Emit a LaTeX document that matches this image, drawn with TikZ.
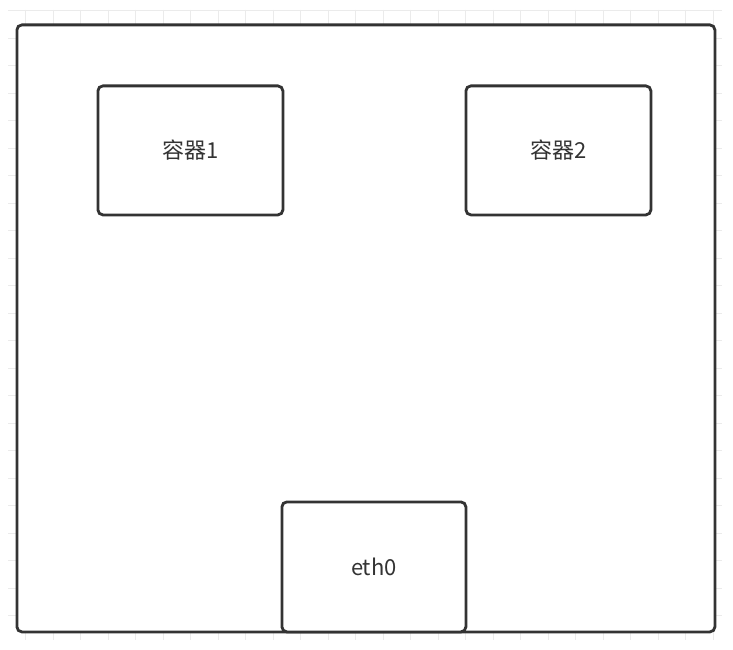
\documentclass[tikz,border=0pt]{standalone}
\usepackage{fontspec}
\setmainfont{Liberation Sans}
\newfontfamily\cjk{Noto Sans CJK SC}
\begin{document}
\begin{tikzpicture}[x=1pt,y=-1pt,
  box/.style={draw=black!80, line width=2.8pt, rounded corners=5pt, fill=white},
  lbl/.style={text=black!80, font=\cjk\fontsize{22}{26}\selectfont}]
\useasboundingbox (0,0) rectangle (733,650);
\fill[white] (0,0) rectangle (733,650);
\begin{scope}
\clip (8,10) rectangle (722,640);
\foreach \i in {0,...,26} {
  \draw[black!8, line width=0.8pt] ({-2+27.5*\i},10) -- ({-2+27.5*\i},640);
  \draw[black!8, line width=0.8pt] (8,{10.5+27.5*\i}) -- (722,{10.5+27.5*\i});
}
\end{scope}
\node[box, minimum width=698pt, minimum height=607pt, anchor=north west] (host) at (15.5,23.5) {};
\node[box, minimum width=185pt, minimum height=129pt, anchor=north west, lbl] (c1) at (96.5,84.5) {容器1};
\node[box, minimum width=185pt, minimum height=129pt, anchor=north west, lbl] (c2) at (464.5,84.5) {容器2};
\node[box, minimum width=184pt, minimum height=130pt, anchor=north west, lbl] (eth) at (280.5,500.5) {eth0};
\end{tikzpicture}
\end{document}
